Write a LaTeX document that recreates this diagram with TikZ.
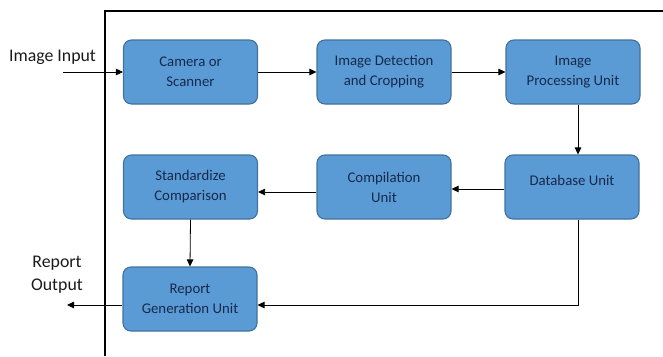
\documentclass[tikz,border=0pt]{standalone}
\usepackage{fontspec}
\setmainfont{Carlito}
\usetikzlibrary{arrows.meta}
\definecolor{boxfill}{HTML}{5B9BD5}
\definecolor{boxline}{HTML}{41719C}
\definecolor{boxtext}{HTML}{16294A}
\definecolor{lbl}{HTML}{1A1A1A}
\tikzset{
  blk/.style={draw=boxline, fill=boxfill, line width=1.1pt, rounded corners=8pt,
    minimum width=134pt, minimum height=64pt, align=center, text=boxtext,
    font=\fontsize{14.8}{20}\selectfont, inner sep=2pt},
  arr/.style={draw=black, line width=0.8pt, -{Triangle[length=7pt,width=6.5pt]}},
  lab/.style={align=center, text=lbl, font=\fontsize{17.8}{23}\selectfont, inner sep=0pt},
}
\begin{document}
\begin{tikzpicture}[x=1pt,y=-1pt]
\useasboundingbox (0,0) rectangle (663,356);
\draw[line width=1.3pt] (105,356) -- (105,11) -- (663,11);
\node[blk] (cam) at (190.5,72) {Camera or\\Scanner};
\node[blk] (det) at (384,72) {Image Detection\\and Cropping};
\node[blk] (proc) at (573,72) {Image\\Processing Unit};
\node[blk] (db) at (572,187) {\raisebox{14pt}{Database Unit}};
\node[blk] (comp) at (384,187) {Compilation\\Unit};
\node[blk] (std) at (190.5,187) {Standardize\\Comparison};
\node[blk] (rep) at (190,299) {Report\\Generation Unit};
\node[lab] (inlab) at (52.5,57) {Image Input};
\node[lab] (outlab) at (57,274.5) {Report\\Output};
\coordinate (inp) at (63,72);
\coordinate (outp) at (67,305);
\coordinate (c1) at (578,305);
\draw[arr] (inp) -- (cam.west);
\draw[arr] (cam.east) -- (det.west);
\draw[arr] (det.east) -- (proc.west);
\draw[arr] (proc.south -| c1) -- (db.north -| c1);
\draw[arr] ([yshift=-2pt]db.west) -- ([yshift=-2pt]comp.east);
\draw[arr] ([yshift=-5pt]comp.west) -- ([yshift=-5pt]std.east);
\draw[arr] (std.south) -- (rep.north);
\draw[arr] (db.south -| c1) -- (c1) -- (rep.east |- c1);
\draw[arr] (rep.west |- outp) -- (outp);
\end{tikzpicture}
\end{document}
